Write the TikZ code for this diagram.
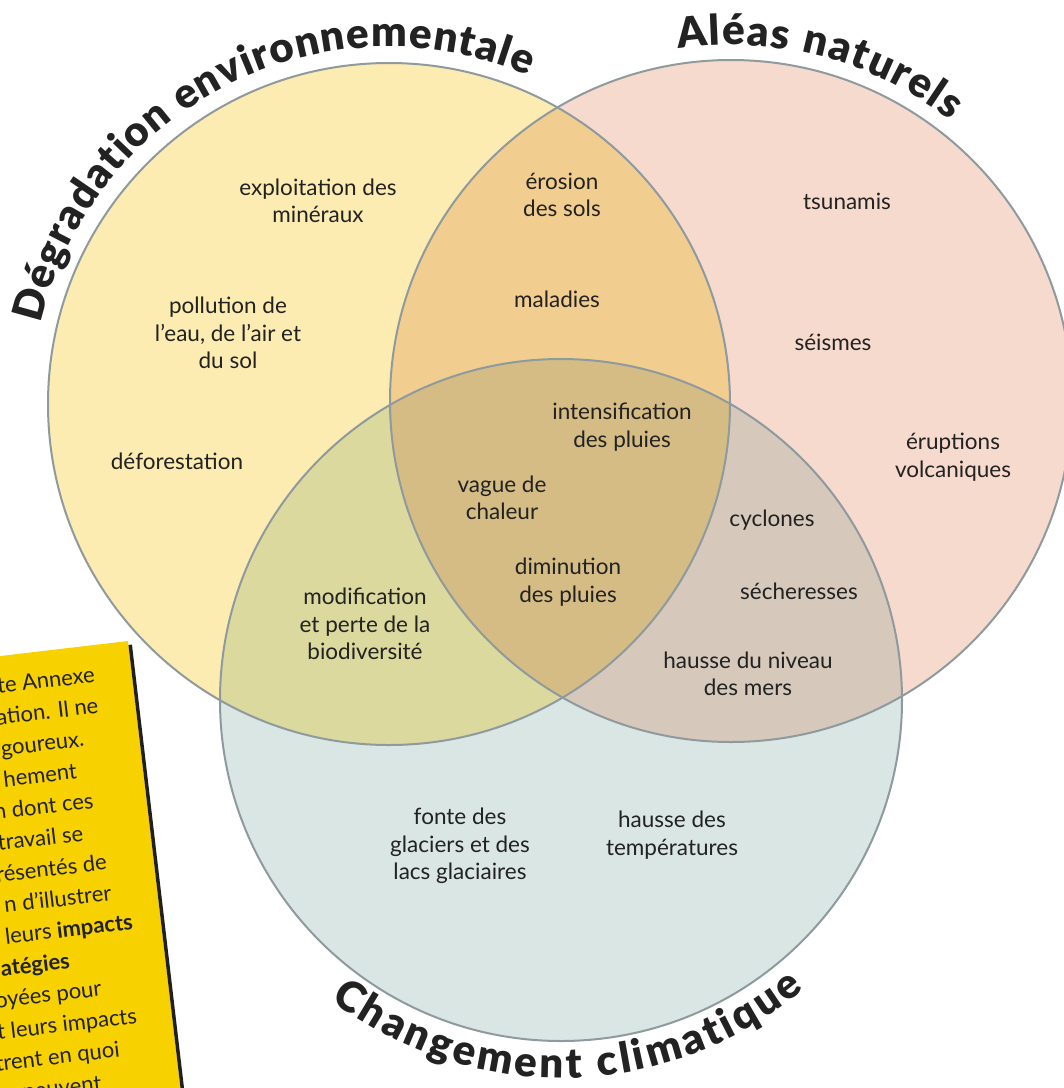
\documentclass[tikz,border=0pt]{standalone}
\usepackage{fontspec}
\setmainfont{Lato}
\newfontfamily\blackfont{Lato Black}
\usetikzlibrary{decorations.text}
\definecolor{yelA}{HTML}{FCECB2}
\definecolor{pinkB}{HTML}{F5DACD}
\definecolor{blueC}{HTML}{DAE6E3}
\definecolor{colAB}{HTML}{F1CE90}
\definecolor{colAC}{HTML}{DBD99E}
\definecolor{colBC}{HTML}{D6C9BB}
\definecolor{colABC}{HTML}{D5BC84}
\definecolor{rim}{HTML}{8E9A9E}
\definecolor{boxyel}{HTML}{F8D100}
\definecolor{txt}{HTML}{222222}
\tikzset{
  lbl/.style={font=\fontsize{22.5}{27.5}\selectfont, align=center, text=txt, inner sep=0pt},
  boxtxt/.style={font=\fontsize{22}{22}\selectfont, anchor=base east, text=txt, inner sep=0pt},
  rimline/.style={draw=rim, line width=2pt},
  titlepath/.style={decorate, decoration={text along path, text align={fit to path}, text={|\blackfont\fontsize{42}{42}\selectfont\color{txt}|#1}}}
}
\begin{document}
\begin{tikzpicture}[x=1pt,y=1pt]
\useasboundingbox (0,0) rectangle (1064,-1088);
\coordinate (A) at (389,-404);
\coordinate (B) at (731,-401);
\coordinate (C) at (561,-700);
\def\R{341}
% fills
\fill[yelA] (A) circle (\R);
\fill[pinkB] (B) circle (\R);
\fill[blueC] (C) circle (\R);
\begin{scope}\clip (A) circle (\R); \fill[colAB] (B) circle (\R);\end{scope}
\begin{scope}\clip (A) circle (\R); \fill[colAC] (C) circle (\R);\end{scope}
\begin{scope}\clip (B) circle (\R); \fill[colBC] (C) circle (\R);\end{scope}
\begin{scope}\clip (A) circle (\R); \clip (B) circle (\R); \fill[colABC] (C) circle (\R);\end{scope}
% outlines
\draw[rimline] (A) circle (\R);
\draw[rimline] (B) circle (\R);
\draw[rimline] (C) circle (\R);
% titles
\path[titlepath={Dégradation environnementale}] (A) ++(167:357) arc[start angle=167, end angle=67, radius=357];
\path[titlepath={Aléas naturels}] (B) ++(98.5:356) arc[start angle=98.5, end angle=52, radius=356];
\path[titlepath={Changement climatique}] (C) ++(232.5:378) arc[start angle=232.5, end angle=310, radius=378];
% labels
\node[lbl] (l1) at (318,-201) {exploitation des\\minéraux};
\node[lbl] (l2) at (228,-333) {pollution de\\l’eau, de l’air et\\du sol};
\node[lbl] (l3) at (177,-461) {déforestation};
\node[lbl] (l4) at (562,-195) {érosion\\des sols};
\node[lbl] (l5) at (557,-299) {maladies};
\node[lbl] (l6) at (847,-201) {tsunamis};
\node[lbl] (l7) at (833,-342) {séismes};
\node[lbl] (l8) at (953,-457) {éruptions\\volcaniques};
\node[lbl] (l9) at (622,-427) {intensification\\des pluies};
\node[lbl] (l10) at (502,-498) {vague de\\chaleur};
\node[lbl] (l11) at (568,-582) {diminution\\des pluies};
\node[lbl] (l12) at (365,-624) {modification\\et perte de la\\biodiversité};
\node[lbl] (l13) at (772,-520) {cyclones};
\node[lbl] (l14) at (799,-591) {sécheresses};
\node[lbl] (l15) at (748,-674) {hausse du niveau\\des mers};
\node[lbl] (l16) at (460,-846) {fonte des\\glaciers et des\\lacs glaciaires};
\node[lbl] (l17) at (672,-835) {hausse des\\températures};
% yellow note box
\begin{scope}[shift={(128,-641)}, rotate=6.7, transform shape]
  \fill[boxyel] (-300,0) rectangle (0,-520);
  \fill[black!88] (0,-4) rectangle (3.5,-520);
  \node[boxtxt] (b0) at (-37,-37) {te Annexe};
  \node[boxtxt] (b1) at (-37,-68.25) {ation. Il ne};
  \node[boxtxt] (b2) at (-55,-99.5) {goureux.};
  \node[boxtxt] (b3) at (-66,-130.75) {hement};
  \node[boxtxt] (b4) at (-53,-162) {n dont ces};
  \node[boxtxt] (b5) at (-67,-193.25) {travail se};
  \node[boxtxt] (b6) at (-47,-224.5) {résentés de};
  \node[boxtxt] (b7) at (-46,-255.75) {n d’illustrer};
  \node[boxtxt] (b8) at (-28,-287) {leurs \textbf{impacts}};
  \node[boxtxt] (b9) at (-95,-318.25) {\textbf{atégies}};
  \node[boxtxt] (b10) at (-67,-349.5) {oyées pour};
  \node[boxtxt] (b11) at (-35,-380.75) {t leurs impacts};
  \node[boxtxt] (b12) at (-56,-412) {trent en quoi};
  \node[boxtxt] (b13) at (-78,-443.25) {s peuvent};
\end{scope}
\end{tikzpicture}
\end{document}
